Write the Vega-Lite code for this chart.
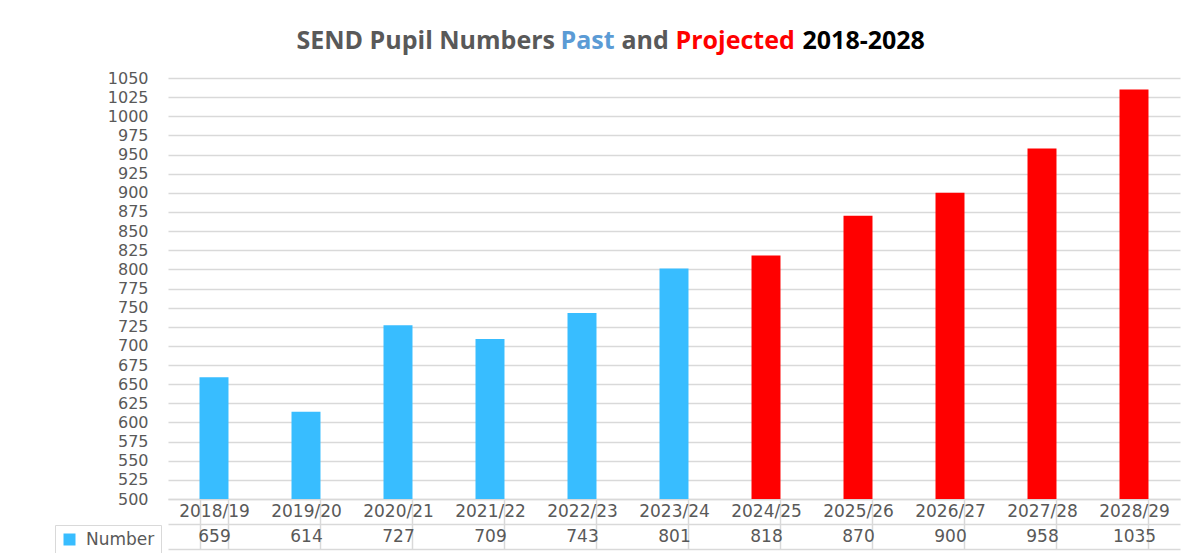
{
  "$schema": "https://vega.github.io/schema/vega-lite/v6.json",
  "width": 1012,
  "height": 421,
  "autosize": {"type": "none"},
  "padding": {"left": 168, "top": 78, "right": 15, "bottom": 54},
  "background": "white",
  "data": {
    "values": [
      {"year": "2018/19", "number": 659, "type": "Past"},
      {"year": "2019/20", "number": 614, "type": "Past"},
      {"year": "2020/21", "number": 727, "type": "Past"},
      {"year": "2021/22", "number": 709, "type": "Past"},
      {"year": "2022/23", "number": 743, "type": "Past"},
      {"year": "2023/24", "number": 801, "type": "Past"},
      {"year": "2024/25", "number": 818, "type": "Projected"},
      {"year": "2025/26", "number": 870, "type": "Projected"},
      {"year": "2026/27", "number": 900, "type": "Projected"},
      {"year": "2027/28", "number": 958, "type": "Projected"},
      {"year": "2028/29", "number": 1035, "type": "Projected"}
    ]
  },
  "layer": [
    {
      "mark": {"type": "bar"},
      "encoding": {
        "x": {
          "field": "year", "type": "ordinal", "sort": null,
          "scale": {"paddingInner": 0.685, "paddingOuter": 0.3425},
          "axis": {
            "orient": "bottom",
            "title": "and",
            "titleX": 453, "titleY": -451,
            "titleAlign": "left", "titleBaseline": "alphabetic", "titleAngle": 0,
            "titleFont": "Open Sans", "titleFontSize": 25, "titleFontWeight": "bold", "titleColor": "#595959",
            "labelAngle": 0, "labelFont": "DejaVu Sans", "labelFontSize": 17, "labelColor": "#595959",
            "labelBaseline": "middle", "labelPadding": -13, "labelOverlap": false,
            "tickBand": "extent", "tickSize": 25, "tickColor": "#d9d9d9", "tickWidth": 1.5,
            "domainColor": "#d9d9d9", "domainWidth": 1.5, "grid": false
          }
        },
        "y": {
          "field": "number", "type": "quantitative",
          "scale": {"domain": [500, 1050], "nice": false, "zero": false},
          "axis": {
            "values": [500, 525, 550, 575, 600, 625, 650, 675, 700, 725, 750, 775, 800, 825, 850, 875, 900, 925, 950, 975, 1000, 1025, 1050],
            "format": "d",
            "grid": true, "gridColor": "#d9d9d9", "gridWidth": 1.5,
            "domain": false, "ticks": false, "labelPadding": 20,
            "labelFont": "DejaVu Sans", "labelFontSize": 16, "labelColor": "#595959",
            "title": "Past",
            "titleX": 392, "titleY": -30,
            "titleAlign": "left", "titleBaseline": "alphabetic", "titleAngle": 0,
            "titleFont": "Open Sans", "titleFontSize": 25, "titleFontWeight": "bold", "titleColor": "#5B9BD5"
          }
        },
        "y2": {"datum": 500},
        "color": {
          "field": "type", "type": "nominal",
          "scale": {"domain": ["Past", "Projected"], "range": ["#38BDFF", "#FF0000"]},
          "legend": {
            "orient": "none", "legendX": -113, "legendY": 447,
            "title": null, "values": ["Past"], "labelExpr": "'Number'",
            "symbolType": "square", "symbolSize": 144, "symbolStrokeWidth": 0,
            "strokeColor": "#d9d9d9", "padding": 6, "labelOffset": 8,
            "labelFont": "DejaVu Sans", "labelFontSize": 17, "labelColor": "#595959"
          }
        }
      }
    },
    {
      "mark": {"type": "bar", "opacity": 0},
      "encoding": {
        "x": {
          "field": "number", "type": "ordinal", "sort": null,
          "scale": {"paddingInner": 0.685, "paddingOuter": 0.3425},
          "axis": {
            "orient": "bottom", "offset": 25,
            "title": "Projected",
            "titleX": 507, "titleY": -476,
            "titleAlign": "left", "titleBaseline": "alphabetic", "titleAngle": 0,
            "titleFont": "Open Sans", "titleFontSize": 25, "titleFontWeight": "bold", "titleColor": "#FF0000",
            "labelAngle": 0, "labelFont": "DejaVu Sans", "labelFontSize": 17, "labelColor": "#595959",
            "labelBaseline": "middle", "labelPadding": -13, "labelOverlap": false,
            "tickBand": "extent", "tickSize": 25, "tickColor": "#d9d9d9", "tickWidth": 1.5,
            "domainColor": "#d9d9d9", "domainWidth": 1.5, "grid": false
          }
        },
        "y": {
          "field": "number", "type": "quantitative",
          "scale": {"domain": [500, 1050], "nice": false, "zero": false},
          "axis": {
            "orient": "right", "grid": false, "domain": false, "ticks": false, "labels": false,
            "title": "2018-2028",
            "titleX": -378, "titleY": -30,
            "titleAlign": "left", "titleBaseline": "alphabetic", "titleAngle": 0,
            "titleFont": "Open Sans", "titleFontSize": 25, "titleFontWeight": "bold", "titleColor": "#000000"
          }
        },
        "y2": {"datum": 500}
      }
    },
    {
      "mark": {"type": "bar", "opacity": 0},
      "encoding": {
        "x": {
          "field": "year", "type": "ordinal", "sort": null,
          "scale": {"paddingInner": 0.685, "paddingOuter": 0.3425},
          "axis": {
            "orient": "bottom", "offset": 50, "title": null,
            "labels": false, "ticks": false,
            "domainColor": "#d9d9d9", "domainWidth": 1.5, "grid": false
          }
        },
        "y": {
          "field": "number", "type": "quantitative",
          "scale": {"domain": [500, 1050], "nice": false, "zero": false},
          "axis": {
            "orient": "left", "grid": false, "domain": false, "ticks": false, "labels": false,
            "title": "SEND Pupil Numbers",
            "titleX": 128, "titleY": -30,
            "titleAlign": "left", "titleBaseline": "alphabetic", "titleAngle": 0,
            "titleFont": "Open Sans", "titleFontSize": 25, "titleFontWeight": "bold", "titleColor": "#595959"
          }
        },
        "y2": {"datum": 500}
      }
    }
  ],
  "resolve": {
    "scale": {"x": "independent"},
    "axis": {"x": "independent", "y": "independent"}
  },
  "config": {
    "view": {"stroke": null}
  }
}
